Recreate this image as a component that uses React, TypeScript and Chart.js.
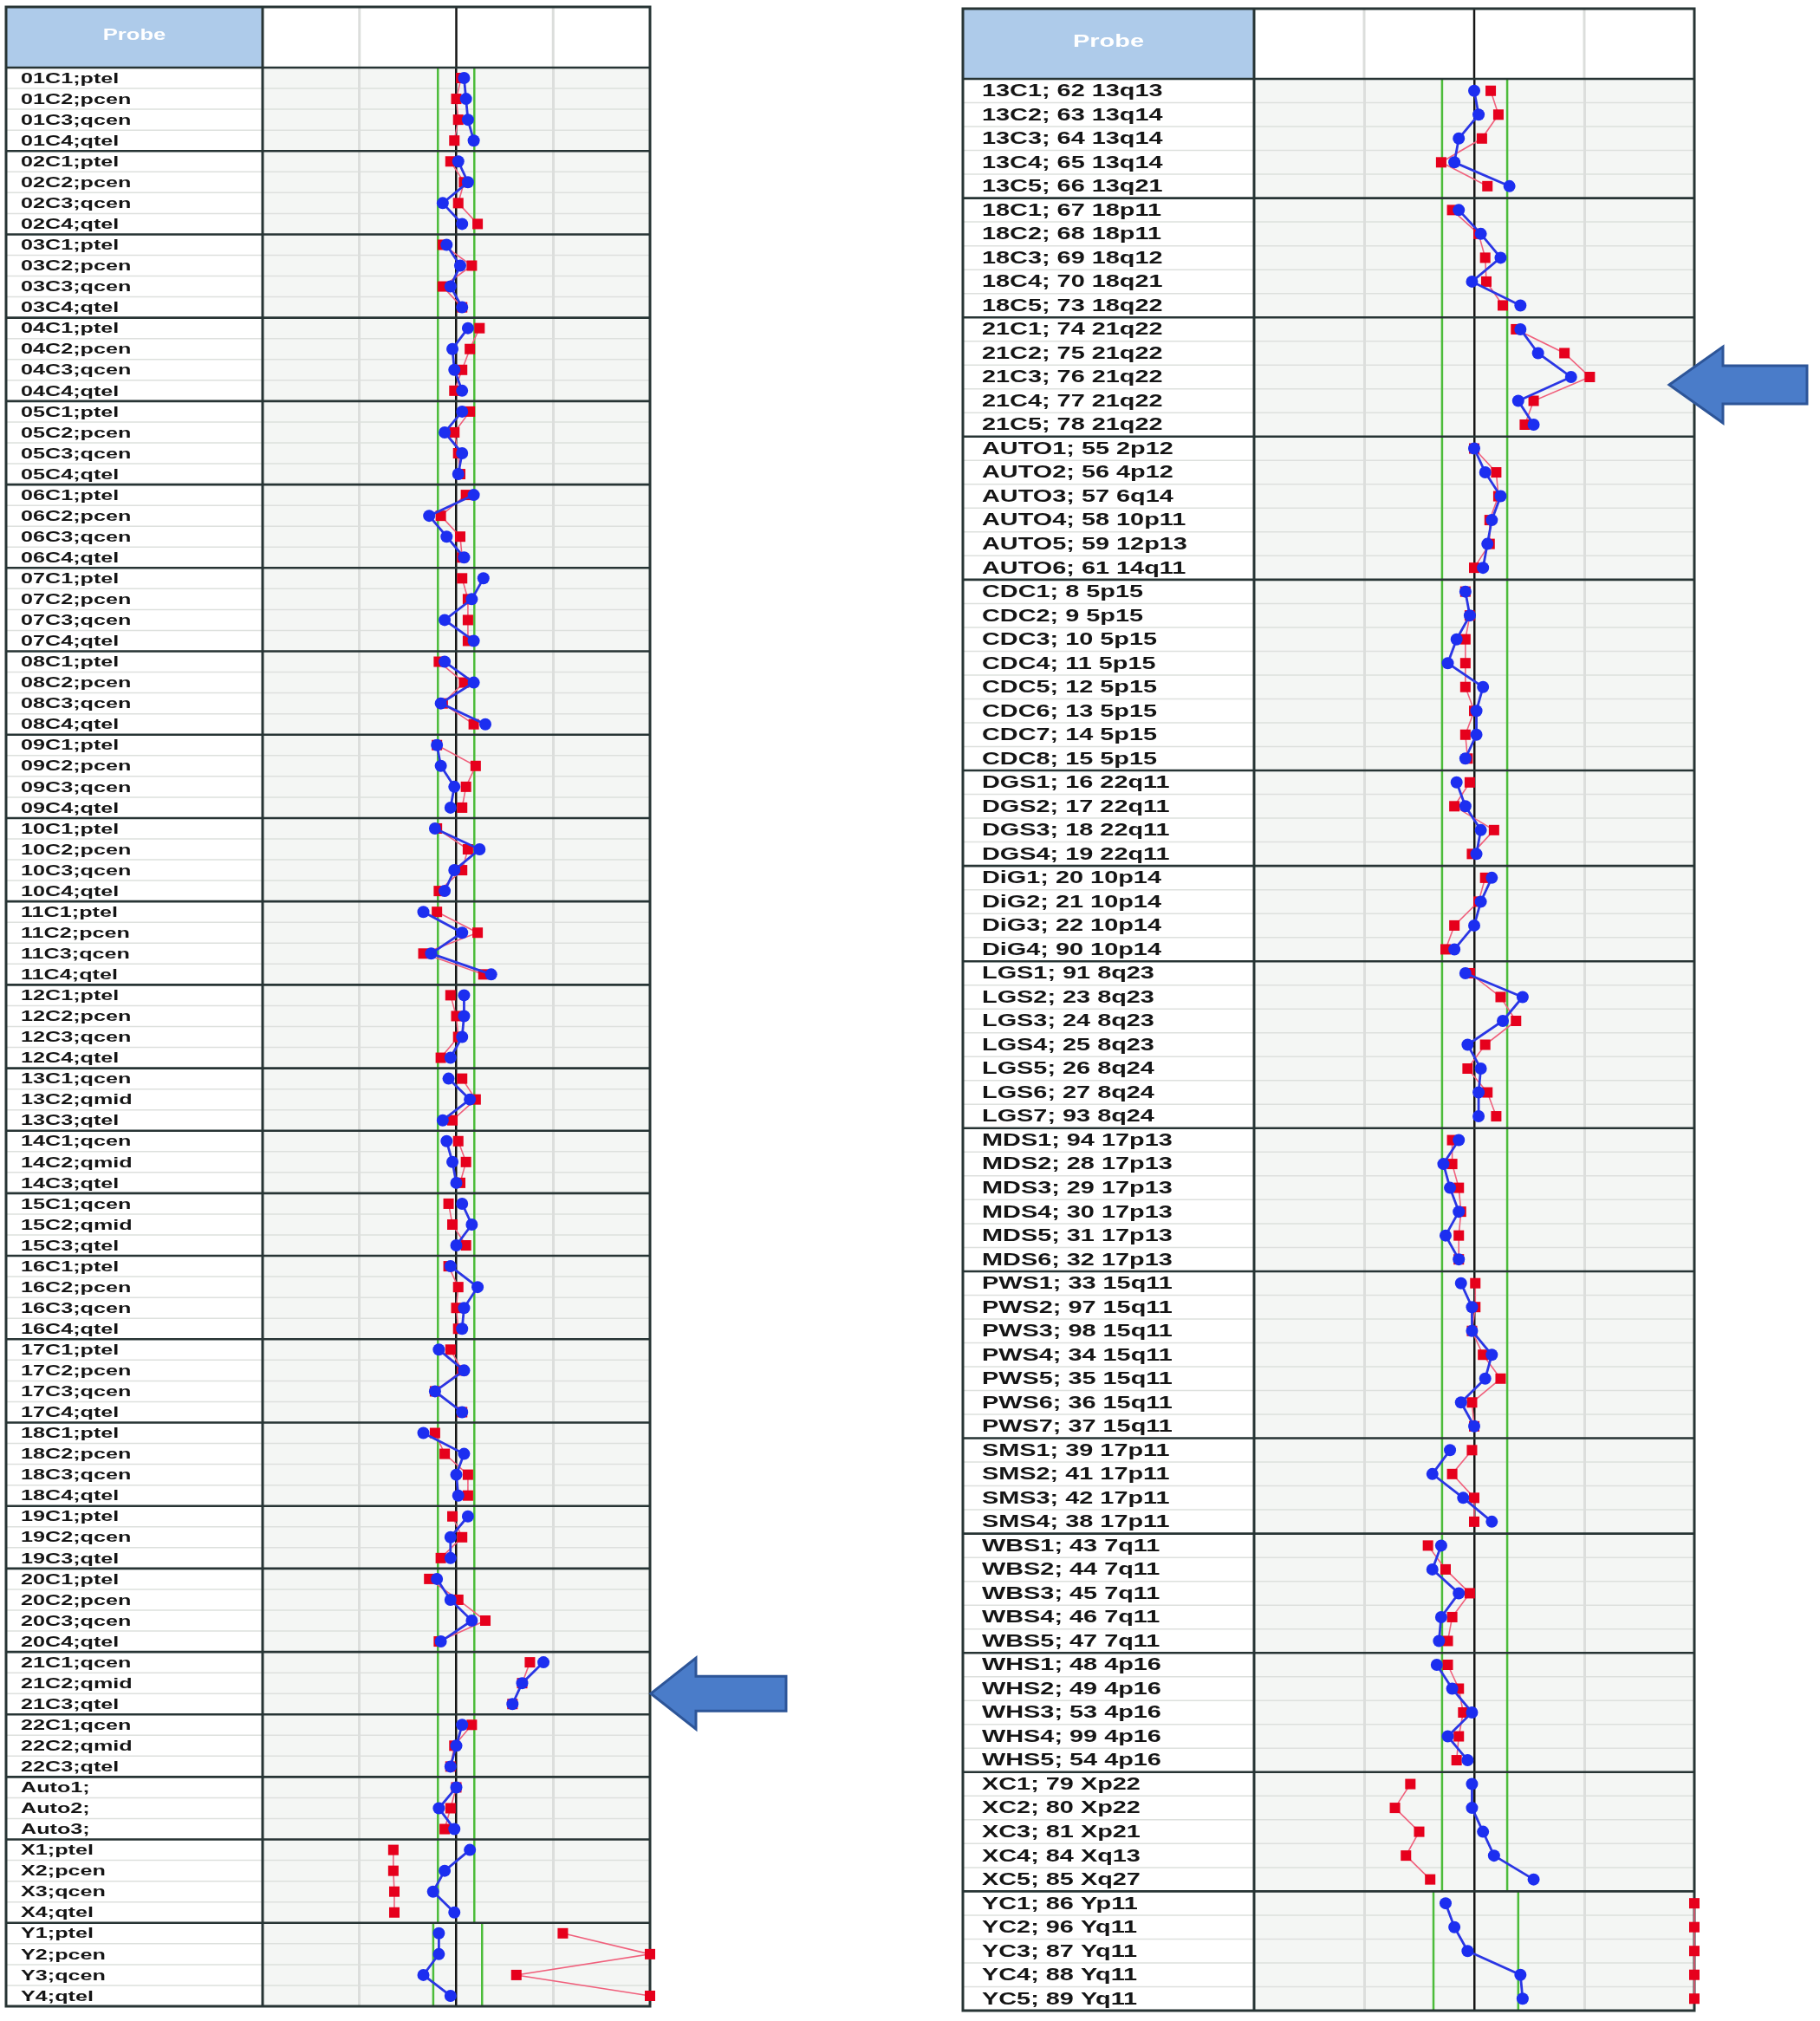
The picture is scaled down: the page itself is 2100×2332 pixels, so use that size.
import React, { useEffect, useRef } from "react";
import { Chart, registerables } from "chart.js";

Chart.register(...registerables);

// ---------------- data ----------------
const headerLabel = "Probe";

const leftGroups: string[][] = [
  ["01C1;ptel", "01C2;pcen", "01C3;qcen", "01C4;qtel"],
  ["02C1;ptel", "02C2;pcen", "02C3;qcen", "02C4;qtel"],
  ["03C1;ptel", "03C2;pcen", "03C3;qcen", "03C4;qtel"],
  ["04C1;ptel", "04C2;pcen", "04C3;qcen", "04C4;qtel"],
  ["05C1;ptel", "05C2;pcen", "05C3;qcen", "05C4;qtel"],
  ["06C1;ptel", "06C2;pcen", "06C3;qcen", "06C4;qtel"],
  ["07C1;ptel", "07C2;pcen", "07C3;qcen", "07C4;qtel"],
  ["08C1;ptel", "08C2;pcen", "08C3;qcen", "08C4;qtel"],
  ["09C1;ptel", "09C2;pcen", "09C3;qcen", "09C4;qtel"],
  ["10C1;ptel", "10C2;pcen", "10C3;qcen", "10C4;qtel"],
  ["11C1;ptel", "11C2;pcen", "11C3;qcen", "11C4;qtel"],
  ["12C1;ptel", "12C2;pcen", "12C3;qcen", "12C4;qtel"],
  ["13C1;qcen", "13C2;qmid", "13C3;qtel"],
  ["14C1;qcen", "14C2;qmid", "14C3;qtel"],
  ["15C1;qcen", "15C2;qmid", "15C3;qtel"],
  ["16C1;ptel", "16C2;pcen", "16C3;qcen", "16C4;qtel"],
  ["17C1;ptel", "17C2;pcen", "17C3;qcen", "17C4;qtel"],
  ["18C1;ptel", "18C2;pcen", "18C3;qcen", "18C4;qtel"],
  ["19C1;ptel", "19C2;qcen", "19C3;qtel"],
  ["20C1;ptel", "20C2;pcen", "20C3;qcen", "20C4;qtel"],
  ["21C1;qcen", "21C2;qmid", "21C3;qtel"],
  ["22C1;qcen", "22C2;qmid", "22C3;qtel"],
  ["Auto1;", "Auto2;", "Auto3;"],
  ["X1;ptel", "X2;pcen", "X3;qcen", "X4;qtel"],
  ["Y1;ptel", "Y2;pcen", "Y3;qcen", "Y4;qtel"],
];

const leftBlue: number[] = [
  1.04, 1.05, 1.06, 1.09,
  1.01, 1.06, 0.93, 1.03,
  0.95, 1.02, 0.97, 1.03,
  1.06, 0.98, 0.99, 1.03,
  1.03, 0.94, 1.03, 1.01,
  1.09, 0.86, 0.95, 1.04,
  1.14, 1.08, 0.94, 1.09,
  0.94, 1.09, 0.92, 1.15,
  0.9, 0.92, 0.99, 0.97,
  0.89, 1.12, 0.99, 0.94,
  0.83, 1.03, 0.87, 1.18,
  1.04, 1.04, 1.03, 0.97,
  0.96, 1.07, 0.93,
  0.95, 0.98, 1.0,
  1.03, 1.08, 1.0,
  0.97, 1.11, 1.04, 1.03,
  0.91, 1.04, 0.89, 1.03,
  0.83, 1.04, 1.0, 1.01,
  1.06, 0.97, 0.97,
  0.9, 0.97, 1.08, 0.92,
  1.45, 1.34, 1.29,
  1.03, 1.0, 0.97,
  1.0, 0.91, 0.99,
  1.07, 0.94, 0.88, 0.99,
  0.91, 0.91, 0.83, 0.97,
];

const leftRed: number[] = [
  1.025, 1.0, 1.01, 0.99,
  0.97, 1.04, 1.01, 1.11,
  0.93, 1.08, 0.93, 1.03,
  1.12, 1.07, 1.03, 0.99,
  1.07, 0.99, 1.01, 1.02,
  1.05, 0.92, 1.02, 1.03,
  1.03, 1.06, 1.06, 1.06,
  0.91, 1.04, 0.93, 1.09,
  0.9, 1.1, 1.05, 1.03,
  0.9, 1.06, 1.03, 0.91,
  0.9, 1.11, 0.83, 1.14,
  0.97, 1.0, 1.01, 0.92,
  1.03, 1.1, 0.98,
  1.01, 1.05, 1.02,
  0.96, 0.98, 1.05,
  0.96, 1.01, 1.0, 1.01,
  0.97, 1.03, 0.89, 1.03,
  0.89, 0.94, 1.06, 1.06,
  0.98, 1.03, 0.92,
  0.86, 1.01, 1.15, 0.91,
  1.38, 1.34, 1.29,
  1.08, 0.99, 0.97,
  1.0, 0.97, 0.94,
  0.675, 0.675, 0.68, 0.68,
  1.55, 2.0, 1.31, 2.0,
];

const rightGroups: string[][] = [
  ["13C1; 62 13q13", "13C2; 63 13q14", "13C3; 64 13q14", "13C4; 65 13q14", "13C5; 66 13q21"],
  ["18C1; 67 18p11", "18C2; 68 18p11", "18C3; 69 18q12", "18C4; 70 18q21", "18C5; 73 18q22"],
  ["21C1; 74 21q22", "21C2; 75 21q22", "21C3; 76 21q22", "21C4; 77 21q22", "21C5; 78 21q22"],
  ["AUTO1; 55 2p12", "AUTO2; 56 4p12", "AUTO3; 57 6q14", "AUTO4; 58 10p11", "AUTO5; 59 12p13", "AUTO6; 61 14q11"],
  ["CDC1; 8 5p15", "CDC2; 9 5p15", "CDC3; 10 5p15", "CDC4; 11 5p15", "CDC5; 12 5p15", "CDC6; 13 5p15", "CDC7; 14 5p15", "CDC8; 15 5p15"],
  ["DGS1; 16 22q11", "DGS2; 17 22q11", "DGS3; 18 22q11", "DGS4; 19 22q11"],
  ["DiG1; 20 10p14", "DiG2; 21 10p14", "DiG3; 22 10p14", "DiG4; 90 10p14"],
  ["LGS1; 91 8q23", "LGS2; 23 8q23", "LGS3; 24 8q23", "LGS4; 25 8q23", "LGS5; 26 8q24", "LGS6; 27 8q24", "LGS7; 93 8q24"],
  ["MDS1; 94 17p13", "MDS2; 28 17p13", "MDS3; 29 17p13", "MDS4; 30 17p13", "MDS5; 31 17p13", "MDS6; 32 17p13"],
  ["PWS1; 33 15q11", "PWS2; 97 15q11", "PWS3; 98 15q11", "PWS4; 34 15q11", "PWS5; 35 15q11", "PWS6; 36 15q11", "PWS7; 37 15q11"],
  ["SMS1; 39 17p11", "SMS2; 41 17p11", "SMS3; 42 17p11", "SMS4; 38 17p11"],
  ["WBS1; 43 7q11", "WBS2; 44 7q11", "WBS3; 45 7q11", "WBS4; 46 7q11", "WBS5; 47 7q11"],
  ["WHS1; 48 4p16", "WHS2; 49 4p16", "WHS3; 53 4p16", "WHS4; 99 4p16", "WHS5; 54 4p16"],
  ["XC1; 79 Xp22", "XC2; 80 Xp22", "XC3; 81 Xp21", "XC4; 84 Xq13", "XC5; 85 Xq27"],
  ["YC1; 86 Yp11", "YC2; 96 Yq11", "YC3; 87 Yq11", "YC4; 88 Yq11", "YC5; 89 Yq11"],
];

const rightBlue: number[] = [
  1.0, 1.02, 0.93, 0.91, 1.16,
  0.93, 1.03, 1.12, 0.99, 1.21,
  1.21, 1.29, 1.44, 1.2, 1.27,
  1.0, 1.05, 1.12, 1.08, 1.06, 1.04,
  0.96, 0.98, 0.92, 0.88, 1.04, 1.01, 1.01, 0.96,
  0.92, 0.96, 1.03, 1.01,
  1.08, 1.03, 1.0, 0.91,
  0.96, 1.22, 1.13, 0.97, 1.03, 1.02, 1.02,
  0.93, 0.86, 0.89, 0.93, 0.87, 0.93,
  0.94, 0.99, 0.99, 1.08, 1.05, 0.94, 1.0,
  0.89, 0.81, 0.95, 1.08,
  0.85, 0.81, 0.93, 0.85, 0.84,
  0.83, 0.9, 0.99, 0.88, 0.97,
  0.99, 0.99, 1.04, 1.09, 1.27,
  0.87, 0.91, 0.97, 1.21, 1.22,
];

const rightRed: number[] = [
  1.075, 1.11, 1.035, 0.85, 1.06,
  0.9, 1.02, 1.05, 1.055, 1.13,
  1.19, 1.41, 1.525, 1.27, 1.23,
  1.0, 1.1, 1.11, 1.07, 1.07, 1.0,
  0.96, 0.98, 0.96, 0.96, 0.96, 1.0, 0.96, 0.97,
  0.98, 0.91, 1.09, 0.99,
  1.05, 1.02, 0.91, 0.87,
  0.98, 1.12, 1.19, 1.05, 0.97, 1.06, 1.1,
  0.9, 0.9, 0.93, 0.94, 0.93, 0.93,
  1.005, 1.005, 0.99, 1.04, 1.12, 0.99, 1.0,
  0.99, 0.9, 1.0, 1.0,
  0.79, 0.87, 0.98, 0.9, 0.88,
  0.88, 0.93, 0.95, 0.93, 0.92,
  0.71, 0.64, 0.75, 0.69, 0.8,
  2.0, 2.0, 2.0, 2.0, 2.0,
];

// axis range, grid step, reference (normal) ratio
const axisRange: number[] = [0, 2];
const gridStep = 0.5;
const referenceRatio = 1;

// threshold bands (row from, row to, lower, upper)
const leftBands = [
  { from: 0, to: 88, lo: 0.905, hi: 1.093 },
  { from: 89, to: 92, lo: 0.881, hi: 1.133 },
];
const rightBands = [
  { from: 0, to: 75, lo: 0.854, hi: 1.15 },
  { from: 76, to: 80, lo: 0.815, hi: 1.2 },
];

// arrow annotations: position in rows (fractional index)
const leftArrowRow = 77.5;
const rightArrowRow = 12.33;

// ---------------- component ----------------
type Band = { from: number; to: number; lo: number; hi: number };
type Spec = {
  groups: string[][];
  blue: number[];
  red: number[];
  bands: Band[];
  arrowRow: number;
  canvasLeft: number;
  width: number;
  height: number;
  tableLeft: number;
  headerTop: number;
  plotLeft: number;
  plotTop: number;
  plotRight: number;
  plotBottom: number;
  labelFont: string;
  labelScale: number;
  labelIndent: number;
  headerFont: string;
  headerScale: number;
  arrow: { tipOffset: number; headLen: number; headHalf: number; shaftHalf: number; len: number };
};

const BORDER = "#273434";
const HIDDEN = "rgba(0,0,0,0)";

function Panel({ spec }: { spec: Spec }) {
  const ref = useRef<HTMLCanvasElement>(null);

  useEffect(() => {
    const labels = spec.groups.flat();
    const groupStarts: number[] = [];
    let k = 0;
    spec.groups.forEach((g) => {
      groupStarts.push(k);
      k += g.length;
    });
    const breakSet = new Set(groupStarts.filter((g) => g > 0));
    const segColor = (c: any) => (breakSet.has(c.p1DataIndex) ? HIDDEN : undefined);

    const hline = (ctx: any, x0: number, x1: number, y: number) => {
      ctx.beginPath();
      ctx.moveTo(x0, y);
      ctx.lineTo(x1, y);
      ctx.stroke();
    };
    const vline = (ctx: any, x: number, y0: number, y1: number) => {
      ctx.beginPath();
      ctx.moveTo(x, y0);
      ctx.lineTo(x, y1);
      ctx.stroke();
    };

    const plugin = {
      id: "probeTable",
      beforeDraw(chart: any) {
        const { ctx, chartArea: a, scales } = chart;
        const x = scales.x;
        const y = scales.y;
        const L = spec.tableLeft;
        const T = spec.headerTop;
        ctx.save();
        ctx.fillStyle = "#ffffff";
        ctx.fillRect(L, T, a.right - L, a.bottom - T);
        ctx.fillStyle = "#f4f6f4";
        ctx.fillRect(a.left, a.top, a.right - a.left, a.bottom - a.top);
        ctx.fillStyle = "#aecbea";
        ctx.fillRect(L, T, a.left - L, a.top - T);
        // row lines
        ctx.strokeStyle = "#dde0dd";
        ctx.lineWidth = 1.5;
        for (let i = 1; i < labels.length; i++) {
          hline(ctx, L, a.right, y.getPixelForValue(i - 0.5));
        }
        // header part of vertical grid
        for (let v = axisRange[0] + gridStep; v < axisRange[1]; v += gridStep) {
          const px = x.getPixelForValue(v);
          if (Math.abs(v - referenceRatio) < 1e-9) {
            ctx.strokeStyle = "#151515";
            ctx.lineWidth = 2.5;
          } else {
            ctx.strokeStyle = "#dcdedc";
            ctx.lineWidth = 3;
          }
          vline(ctx, px, T, a.top);
        }
        ctx.restore();
      },
      beforeDatasetsDraw(chart: any) {
        const { ctx, chartArea: a, scales } = chart;
        const x = scales.x;
        const y = scales.y;
        const L = spec.tableLeft;
        const T = spec.headerTop;
        ctx.save();
        // threshold lines
        ctx.strokeStyle = "#4cbc3a";
        ctx.lineWidth = 2.5;
        spec.bands.forEach((b) => {
          const y0 = y.getPixelForValue(b.from - 0.5);
          const y1 = y.getPixelForValue(b.to + 0.5);
          vline(ctx, x.getPixelForValue(b.lo), y0, y1);
          vline(ctx, x.getPixelForValue(b.hi), y0, y1);
        });
        // group borders
        ctx.strokeStyle = BORDER;
        ctx.lineWidth = 2.6;
        groupStarts.forEach((g) => hline(ctx, L, a.right, y.getPixelForValue(g - 0.5)));
        // column separator and outer border
        ctx.lineWidth = 3;
        vline(ctx, a.left, T, a.bottom);
        ctx.strokeRect(L, T, a.right - L, a.bottom - T);
        ctx.restore();
      },
      afterDraw(chart: any) {
        const { ctx, chartArea: a, scales } = chart;
        const y = scales.y;
        const L = spec.tableLeft;
        const T = spec.headerTop;
        ctx.save();
        // probe labels
        ctx.fillStyle = "#151515";
        ctx.font = spec.labelFont;
        ctx.textAlign = "left";
        ctx.textBaseline = "middle";
        labels.forEach((lab, i) => {
          const py = y.getPixelForValue(i) + 1;
          ctx.save();
          ctx.translate(L + spec.labelIndent, py);
          ctx.scale(spec.labelScale, 1);
          ctx.fillText(lab, 0, 0);
          ctx.restore();
        });
        // header text
        ctx.fillStyle = "#ffffff";
        ctx.font = spec.headerFont;
        ctx.textAlign = "center";
        ctx.save();
        ctx.translate((L + a.left) / 2, (T + a.top) / 2 - 2);
        ctx.scale(spec.headerScale, 1);
        ctx.fillText(headerLabel, 0, 0);
        ctx.restore();
        // arrow annotation
        const ar = spec.arrow;
        const cy = y.getPixelForValue(spec.arrowRow);
        const tip = a.right + ar.tipOffset;
        ctx.beginPath();
        ctx.moveTo(tip, cy);
        ctx.lineTo(tip + ar.headLen, cy - ar.headHalf);
        ctx.lineTo(tip + ar.headLen, cy - ar.shaftHalf);
        ctx.lineTo(tip + ar.len, cy - ar.shaftHalf);
        ctx.lineTo(tip + ar.len, cy + ar.shaftHalf);
        ctx.lineTo(tip + ar.headLen, cy + ar.shaftHalf);
        ctx.lineTo(tip + ar.headLen, cy + ar.headHalf);
        ctx.closePath();
        ctx.fillStyle = "#4a7cc9";
        ctx.fill();
        ctx.strokeStyle = "#2d5598";
        ctx.lineWidth = 3;
        ctx.lineJoin = "miter";
        ctx.stroke();
        ctx.restore();
      },
    };

    const chart = new Chart(ref.current as HTMLCanvasElement, {
      type: "line",
      data: {
        labels,
        datasets: [
          {
            label: "blue",
            data: spec.blue,
            borderColor: "#2a36e4",
            backgroundColor: "#1c2ef0",
            pointBackgroundColor: "#1c2ef0",
            borderWidth: 2.8,
            pointStyle: "circle",
            pointRadius: 7,
            pointBorderWidth: 0,
            tension: 0,
            clip: false,
            segment: { borderColor: segColor },
          } as any,
          {
            label: "red",
            data: spec.red,
            borderColor: "#f0607c",
            backgroundColor: "#e6001c",
            pointBackgroundColor: "#e6001c",
            borderWidth: 1.6,
            pointStyle: "rect",
            pointRadius: 8.5,
            pointBorderWidth: 0,
            tension: 0,
            clip: false,
            segment: { borderColor: segColor },
          } as any,
        ],
      },
      options: {
        indexAxis: "y",
        responsive: false,
        animation: false,
        events: [],
        layout: {
          padding: {
            left: spec.plotLeft,
            top: spec.plotTop,
            right: spec.width - spec.plotRight,
            bottom: spec.height - spec.plotBottom,
          },
        },
        scales: {
          x: {
            type: "linear",
            position: "top",
            min: axisRange[0],
            max: axisRange[1],
            ticks: { display: false, stepSize: gridStep },
            border: { display: false },
            grid: {
              drawTicks: false,
              color: (c: any) => {
                const v = c.tick ? c.tick.value : NaN;
                if (Math.abs(v - referenceRatio) < 1e-9) return "#151515";
                if (v === axisRange[0] || v === axisRange[1]) return HIDDEN;
                return "#dcdedc";
              },
              lineWidth: (c: any) => (c.tick && Math.abs(c.tick.value - referenceRatio) < 1e-9 ? 2.5 : 3),
            },
            afterFit: (s: any) => {
              s.height = 0;
            },
          },
          y: {
            type: "category",
            display: false,
            offset: true,
          },
        },
        plugins: {
          legend: { display: false },
          tooltip: { enabled: false },
        },
      } as any,
      plugins: [plugin],
    });
    return () => chart.destroy();
  }, [spec]);

  return (
    <canvas
      ref={ref}
      width={spec.width}
      height={spec.height}
      style={{ position: "absolute", left: spec.canvasLeft, top: 0, width: spec.width, height: spec.height }}
    />
  );
}

const leftSpec: Spec = {
  groups: leftGroups,
  blue: leftBlue,
  red: leftRed,
  bands: leftBands,
  arrowRow: leftArrowRow,
  canvasLeft: 0,
  width: 1100,
  height: 2332,
  tableLeft: 7,
  headerTop: 8,
  plotLeft: 303,
  plotTop: 78,
  plotRight: 750,
  plotBottom: 2315,
  labelFont: "bold 17px 'Liberation Sans', Arial, sans-serif",
  labelScale: 1.48,
  labelIndent: 17,
  headerFont: "bold 19px 'Liberation Sans', Arial, sans-serif",
  headerScale: 1.35,
  arrow: { tipOffset: 1, headLen: 52, headHalf: 41, shaftHalf: 20, len: 156 },
};

const rightSpec: Spec = {
  groups: rightGroups,
  blue: rightBlue,
  red: rightRed,
  bands: rightBands,
  arrowRow: rightArrowRow,
  canvasLeft: 1100,
  width: 1000,
  height: 2332,
  tableLeft: 11,
  headerTop: 10,
  plotLeft: 347,
  plotTop: 91,
  plotRight: 855,
  plotBottom: 2320,
  labelFont: "bold 19.5px 'Liberation Sans', Arial, sans-serif",
  labelScale: 1.48,
  labelIndent: 22,
  headerFont: "bold 20px 'Liberation Sans', Arial, sans-serif",
  headerScale: 1.45,
  arrow: { tipOffset: -29, headLen: 62, headHalf: 44, shaftHalf: 22, len: 159 },
};

export default function App() {
  return (
    <div style={{ position: "absolute", left: 0, top: 0, width: 2100, height: 2332, background: "#ffffff", overflow: "hidden" }}>
      <Panel spec={leftSpec} />
      <Panel spec={rightSpec} />
    </div>
  );
}
